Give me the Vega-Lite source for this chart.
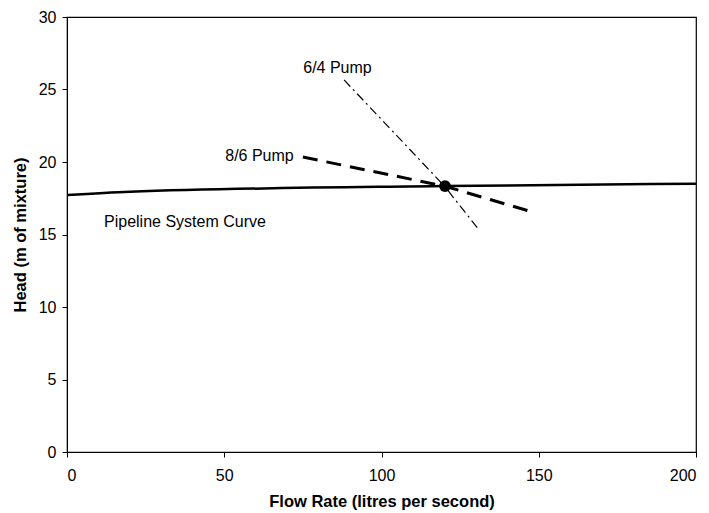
{
  "$schema": "https://vega.github.io/schema/vega-lite/v6.json",
  "width": 629,
  "height": 435,
  "autosize": {"type": "none"},
  "padding": {"left": 67, "top": 17, "right": 13, "bottom": 61},
  "background": "white",
  "config": {
    "view": {"stroke": "black", "strokeWidth": 1.2},
    "font": "Liberation Sans",
    "axis": {
      "grid": false,
      "domainColor": "black",
      "tickColor": "black",
      "labelColor": "black",
      "titleColor": "black",
      "labelFont": "Liberation Sans",
      "titleFont": "Liberation Sans",
      "labelFontSize": 16,
      "titleFontSize": 16.5,
      "titleFontWeight": "bold",
      "tickSize": 5
    }
  },
  "datasets": {
    "curves": [
      {"series": "System", "flow": 0, "head": 17.72},
      {"series": "System", "flow": 20, "head": 17.95},
      {"series": "System", "flow": 120, "head": 18.34},
      {"series": "System", "flow": 200, "head": 18.5},
      {"series": "8/6 Pump", "flow": 75, "head": 20.34},
      {"series": "8/6 Pump", "flow": 120, "head": 18.34},
      {"series": "8/6 Pump", "flow": 146.6, "head": 16.64},
      {"series": "6/4 Pump", "flow": 88.1, "head": 25.66},
      {"series": "6/4 Pump", "flow": 120, "head": 18.34},
      {"series": "6/4 Pump", "flow": 130.6, "head": 15.43}
    ],
    "points": [{"flow": 120.2, "head": 18.34}],
    "labels": [
      {"flow": 86.0, "head": 26.48, "label": "6/4 Pump"},
      {"flow": 61.2, "head": 20.41, "label": "8/6 Pump"},
      {"flow": 37.5, "head": 15.86, "label": "Pipeline System Curve"}
    ]
  },
  "layer": [
    {
      "data": {"name": "curves"},
      "transform": [{"filter": "datum.series === 'System'"}],
      "mark": {"type": "line", "color": "black", "strokeWidth": 2.5, "interpolate": "monotone"},
      "encoding": {
        "x": {"field": "flow", "type": "quantitative", "scale": {"domain": [0, 200], "nice": false}, "axis": {"values": [0, 50, 100, 150, 200], "title": "Flow Rate (litres per second)", "labelPadding": 10, "titlePadding": 10}},
        "y": {"field": "head", "type": "quantitative", "scale": {"domain": [0, 30], "nice": false}, "axis": {"values": [0, 5, 10, 15, 20, 25, 30], "title": "Head (m of mixture)", "labelPadding": 6, "titlePadding": 10}},
        "order": {"field": "flow", "type": "quantitative"}
      }
    },
    {
      "data": {"name": "curves"},
      "transform": [{"filter": "datum.series === '8/6 Pump'"}],
      "mark": {"type": "line", "color": "black", "strokeWidth": 3, "strokeDash": [15, 9]},
      "encoding": {
        "x": {"field": "flow", "type": "quantitative"},
        "y": {"field": "head", "type": "quantitative"},
        "order": {"field": "flow", "type": "quantitative"}
      }
    },
    {
      "data": {"name": "curves"},
      "transform": [{"filter": "datum.series === '6/4 Pump'"}],
      "mark": {"type": "line", "color": "black", "strokeWidth": 1.2, "strokeDash": [9, 4, 2, 4]},
      "encoding": {
        "x": {"field": "flow", "type": "quantitative"},
        "y": {"field": "head", "type": "quantitative"},
        "order": {"field": "flow", "type": "quantitative"}
      }
    },
    {
      "data": {"name": "points"},
      "mark": {"type": "point", "filled": true, "color": "black", "opacity": 1, "size": 140},
      "encoding": {
        "x": {"field": "flow", "type": "quantitative"},
        "y": {"field": "head", "type": "quantitative"}
      }
    },
    {
      "data": {"name": "labels"},
      "mark": {"type": "text", "color": "black", "fontSize": 16, "font": "Liberation Sans", "align": "center", "baseline": "middle"},
      "encoding": {
        "x": {"field": "flow", "type": "quantitative"},
        "y": {"field": "head", "type": "quantitative"},
        "text": {"field": "label"}
      }
    }
  ]
}
